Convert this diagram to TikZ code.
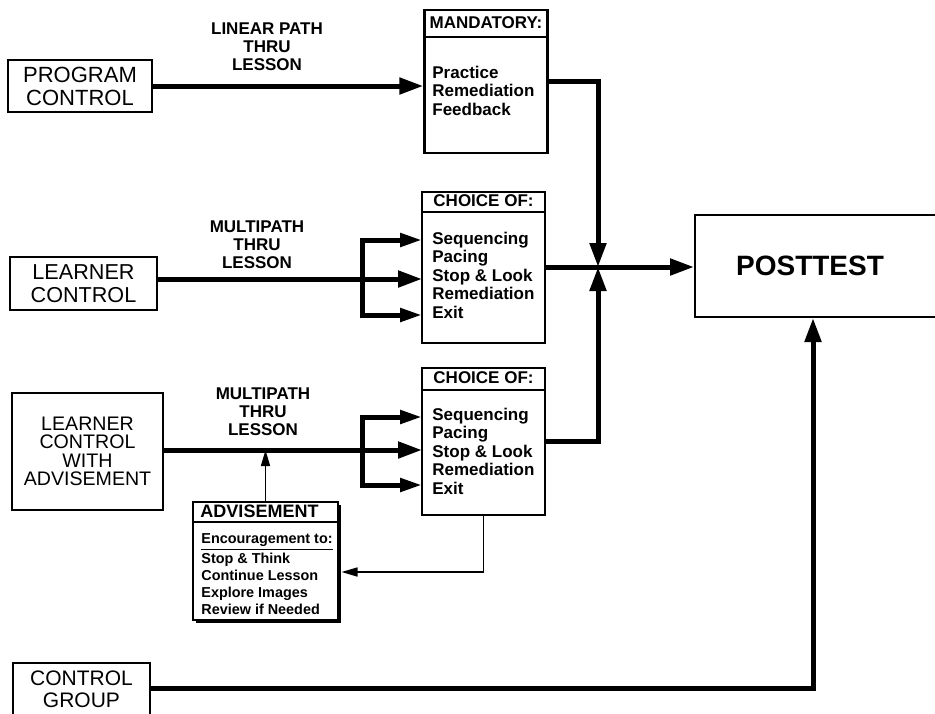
\documentclass[tikz,border=0pt]{standalone}
\usepackage{fontspec}
\setmainfont{Liberation Sans}
\usetikzlibrary{arrows.meta,positioning,shadows}

\begin{document}
\begin{tikzpicture}[x=0.5pt, y=-0.5pt,
    box/.style={draw, line width=1.1pt, inner sep=0pt, align=center, font=\fontsize{11}{11.5}\selectfont},
    panel/.style={draw, line width=1.2pt, inner sep=0pt, minimum width=61.5pt},
    head/.style={inner sep=0pt, anchor=base, font=\bfseries\fontsize{8.5}{9.2}\selectfont},
    items/.style={inner sep=0pt, anchor=base west, align=left, font=\bfseries\fontsize{8.5}{9.2}\selectfont},
    path label/.style={inner sep=0pt, align=center, font=\bfseries\fontsize{8.5}{9.1}\selectfont},
    flow/.style={line width=2.5pt, -{Triangle[length=12pt,width=8pt]}},
    branch/.style={line width=2.5pt, -{Triangle[length=11pt,width=6.5pt]}},
    thin flow/.style={line width=0.8pt, -{Triangle[length=8pt,width=4.5pt]}}]
  \useasboundingbox (0,0) rectangle (935,713);

  % left column
  \node[box, minimum width=72pt, minimum height=26pt] (prog) at (80,86) {PROGRAM\\CONTROL};
  \node[box, minimum width=73.5pt, minimum height=26.5pt, font=\fontsize{10.8}{11.5}\selectfont] (learn) at (83.5,283.5) {LEARNER\\CONTROL};
  \node[box, minimum width=75.5pt, minimum height=58.5pt, font=\fontsize{9.8}{9.2}\selectfont] (lwa) at (87.5,451.5) {LEARNER\\CONTROL\\WITH\\ADVISEMENT};
  \node[box, minimum width=68.5pt, minimum height=26pt, font=\fontsize{10.5}{11}\selectfont] (ctrl) at (81.5,689) {CONTROL\\GROUP};

  % path labels
  \node[path label] (lblprog) at (267,47) {LINEAR PATH\\THRU\\LESSON};
  \node[path label] (lbllearn) at (257,245) {MULTIPATH\\THRU\\LESSON};
  \node[path label] (lbllwa) at (263,412) {MULTIPATH\\THRU\\LESSON};

  % panels (items anchored on the baseline of their last line)
  \node[panel, minimum height=71.5pt] (mand) at (486,81.5) {};
  \draw[line width=1pt] ([yshift=-14pt]mand.north west) -- ([yshift=-14pt]mand.north east);
  \node[head] (mandh) at ([yshift=-10pt]mand.north) {MANDATORY:};
  \node[items] (mandi) at (432,115) {Practice\\Remediation\\Feedback};

  \node[panel, minimum height=75.5pt] (c1) at (483.5,267.5) {};
  \draw[line width=1pt] ([yshift=-10.5pt]c1.north west) -- ([yshift=-10.5pt]c1.north east);
  \node[head] (c1h) at ([yshift=-8pt]c1.north) {CHOICE OF:};
  \node[items] (c1i) at (432,318) {Sequencing\\Pacing\\Stop \& Look\\Remediation\\Exit};

  \node[panel, minimum height=73.5pt] (c2) at (483.5,441.5) {};
  \draw[line width=1pt] ([yshift=-11.5pt]c2.north west) -- ([yshift=-11.5pt]c2.north east);
  \node[head] (c2h) at ([yshift=-8.5pt]c2.north) {CHOICE OF:};
  \node[items] (c2i) at (432,494) {Sequencing\\Pacing\\Stop \& Look\\Remediation\\Exit};

  \node[panel, minimum width=72.5pt, minimum height=59pt, fill=white,
        drop shadow={shadow xshift=1.6pt, shadow yshift=-1.6pt, opacity=1, fill=black}] (adv) at (265.5,561) {};
  \draw[line width=0.9pt] ([yshift=-10.5pt]adv.north west) -- ([yshift=-10.5pt]adv.north east);
  \node[head, font=\bfseries\fontsize{9}{9}\selectfont] (advh) at ([xshift=-3pt,yshift=-8.5pt]adv.north) {ADVISEMENT};
  \node[items, font=\bfseries\fontsize{7.2}{8.5}\selectfont] (advi) at (201,614)
    {\underline{Encouragement to:}\\Stop \& Think\\Continue Lesson\\Explore Images\\Review if Needed};

  \node[draw, line width=1pt, minimum width=125pt, minimum height=51pt, inner sep=0pt] (post) at (820,266) {};
  \node[inner sep=0pt, font=\bfseries\fontsize{14}{14}\selectfont] (postt) at (810,266) {POSTTEST};

  % junction points
  \coordinate (jn) at (598,267);
  \coordinate (jA) at (362,279);
  \coordinate (c1top) at (422,240);
  \coordinate (c1mid) at (422,279);
  \coordinate (c1bot) at (422,315);
  \coordinate (jB) at (362,450);
  \coordinate (c2top) at (422,417);
  \coordinate (c2mid) at (422,450);
  \coordinate (c2bot) at (422,485);
  \coordinate (advin) at (341.5,572);

  % connectors
  \draw[flow] (prog.east) -- (prog.east -| mand.west);
  \draw[flow] (learn.east |- jA) -- (c1mid);
  \draw[branch] (jA) |- (c1top);
  \draw[branch] (jA) |- (c1bot);
  \draw[flow] (lwa.east |- jB) -- (c2mid);
  \draw[branch] (jB) |- (c2top);
  \draw[branch] (jB) |- (c2bot);
  \draw[thin flow] (adv.north) -- (adv.north |- jB);
  \draw[thin flow] (c2.south) |- (advin);
  \draw[flow] (mand.east) -| (jn);
  \draw[flow] (c2.east) -| (jn);
  \draw[flow] (c1.east |- jn) -- (jn -| post.west);
  \draw[flow] (ctrl.east |- 0,688) -| ([xshift=-3.5pt]post.south);
\end{tikzpicture}
\end{document}
